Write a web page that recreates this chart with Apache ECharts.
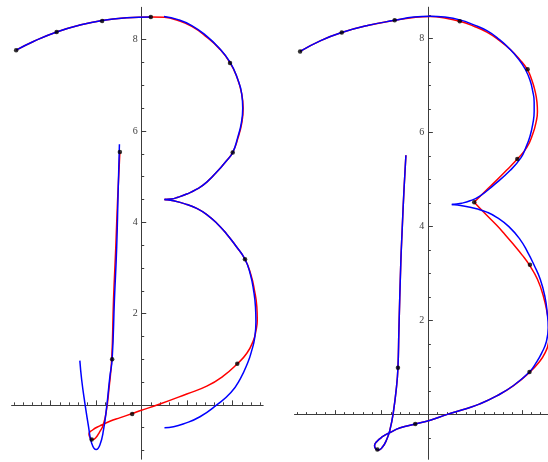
<!DOCTYPE html>
<html>
<head>
<meta charset="utf-8">
<script src="https://cdn.jsdelivr.net/npm/echarts@6/dist/echarts.min.js"></script>
<style>
  html, body { margin: 0; padding: 0; background: #fff; }
  #chart { width: 548px; height: 462px; }
</style>
</head>
<body>
<div id="chart"></div>
<script>
// ---------- left panel ----------
const leftKnots = [[-2.76,7.77],[-1.87,8.17],[-0.87,8.41],[0.20,8.50],[1.94,7.49],[2.00,5.53],
  [2.27,3.19],[2.10,0.90],[-0.21,-0.20],[-1.10,-0.76],[-0.65,1.00],[-0.48,5.54]];

const leftRedTop = [[-2.76,7.77],[-2.38,7.96],[-1.87,8.17],[-1.36,8.32],[-0.87,8.42],[-0.33,8.48],
  [0.20,8.50],[0.50,8.49],[0.80,8.42],[1.10,8.29],[1.40,8.08],[1.70,7.81],[1.94,7.50],[2.10,7.16],
  [2.20,6.80],[2.23,6.50],[2.20,6.18],[2.12,5.86],[2.00,5.53],[1.85,5.33],[1.72,5.18],[1.43,4.88],
  [1.20,4.72],[0.99,4.62],[0.80,4.55],[0.65,4.51],[0.50,4.50]];
const leftRedBottom = [[0.50,4.50],[0.70,4.47],[0.99,4.39],[1.22,4.30],[1.43,4.17],[1.65,3.98],[1.87,3.74],
  [2.07,3.48],[2.27,3.19],[2.40,2.85],[2.48,2.50],[2.53,2.15],[2.54,1.86],[2.51,1.62],[2.45,1.40],
  [2.31,1.13],[2.10,0.90],[1.79,0.63],[1.43,0.41],[0.99,0.24],[0.40,0.02],[-0.04,-0.13],[-0.21,-0.19],
  [-0.47,-0.28],[-0.70,-0.36],[-0.92,-0.46],[-1.08,-0.55],[-1.16,-0.64],[-1.13,-0.73],[-1.08,-0.76],
  [-1.01,-0.72],[-0.93,-0.60],[-0.85,-0.45],[-0.78,-0.15],[-0.72,0.35],[-0.66,1.00],[-0.62,2.30],
  [-0.57,3.46],[-0.53,4.50],[-0.48,5.54]];

const leftBlueArc = [[-2.76,7.77],[-2.38,7.96],[-1.87,8.17],[-1.36,8.32],[-0.87,8.42],[-0.33,8.48],[0.20,8.50]];
const leftBlueUpperBowl = [[0.49,8.51],[0.80,8.44],[1.10,8.31],[1.40,8.10],[1.70,7.82],[1.94,7.51],[2.10,7.16],
  [2.20,6.80],[2.22,6.50],[2.19,6.18],[2.11,5.86],[2.00,5.53],[1.85,5.33],[1.72,5.18],[1.43,4.88],
  [1.20,4.72],[0.99,4.62],[0.80,4.55],[0.65,4.51],[0.50,4.50]];
const leftBlueLowerBowl = [[0.50,4.50],[0.70,4.47],[0.99,4.39],[1.22,4.30],[1.43,4.17],[1.65,3.98],[1.87,3.74],
  [2.07,3.48],[2.27,3.19],[2.39,2.85],[2.46,2.50],[2.50,2.15],[2.51,1.82],[2.48,1.45],[2.42,1.20],
  [2.34,0.95],[2.16,0.56],[1.96,0.27],[1.65,0.00],[1.28,-0.26],[0.91,-0.42],[0.70,-0.48],[0.50,-0.50]];
const leftBlueStem = [[-1.36,0.97],[-1.32,0.55],[-1.25,0.04],[-1.17,-0.47],[-1.10,-0.84],[-1.00,-0.98],
  [-0.92,-0.88],[-0.84,-0.55],[-0.77,-0.04],[-0.70,0.62],[-0.65,1.00],[-0.60,2.30],[-0.55,3.46],
  [-0.52,4.60],[-0.49,5.71]];

// ---------- right panel ----------
const rightKnots = [[-2.74,7.73],[-1.85,8.13],[-0.72,8.39],[0.67,8.37],[2.12,7.35],[1.90,5.44],
  [0.98,4.52],[2.17,3.19],[2.16,0.91],[-0.65,1.00],[-0.28,-0.20],[-1.09,-0.74]];

const rightRedTop = [[-2.74,7.73],[-2.30,7.96],[-1.85,8.13],[-1.30,8.28],[-0.72,8.39],[-0.31,8.45],
  [0.04,8.47],[0.35,8.44],[0.67,8.37],[0.96,8.27],[1.25,8.14],[1.52,7.96],[1.75,7.77],[1.95,7.56],
  [2.11,7.35],[2.21,7.12],[2.28,6.88],[2.32,6.65],[2.33,6.45],[2.30,6.22],[2.23,5.97],[2.10,5.68],
  [1.90,5.44],[1.68,5.21],[1.45,4.98],[1.22,4.76],[0.98,4.52]];
const rightRedBottom = [[0.98,4.52],[1.20,4.29],[1.46,4.03],[1.64,3.83],[1.82,3.62],[2.00,3.40],[2.16,3.18],
  [2.33,2.88],[2.46,2.51],[2.55,2.10],[2.59,1.85],[2.57,1.55],[2.49,1.31],[2.35,1.10],[2.16,0.90],
  [1.82,0.62],[1.46,0.40],[1.10,0.23],[0.75,0.11],[0.39,0.00],[0.04,-0.12],[-0.28,-0.20],[-0.60,-0.28],
  [-0.82,-0.38],[-0.98,-0.47],[-1.10,-0.57],[-1.15,-0.66],[-1.12,-0.73],[-1.06,-0.75],[-0.98,-0.69],
  [-0.89,-0.53],[-0.82,-0.32],[-0.75,0.04],[-0.68,0.60],[-0.65,1.00],[-0.63,1.78],[-0.59,3.20],
  [-0.56,3.93],[-0.52,4.80],[-0.48,5.52]];

const rightBlueTop = [[-2.74,7.73],[-2.30,7.96],[-1.85,8.13],[-1.30,8.28],[-0.72,8.39],[-0.31,8.46],
  [0.04,8.48],[0.35,8.46],[0.67,8.40],[0.96,8.30],[1.25,8.17],[1.52,7.98],[1.75,7.77],[1.93,7.56],
  [2.07,7.35],[2.17,7.12],[2.23,6.88],[2.26,6.65],[2.26,6.45],[2.23,6.18],[2.17,5.92],[2.08,5.68],
  [1.98,5.47],[1.75,5.20],[1.39,4.88],[1.10,4.65],[0.89,4.55],[0.71,4.50],[0.50,4.47]];
const rightBlueBottom = [[0.50,4.47],[0.75,4.44],[1.03,4.38],[1.25,4.31],[1.46,4.20],[1.72,4.00],[1.95,3.74],
  [2.12,3.46],[2.26,3.18],[2.39,2.88],[2.49,2.51],[2.54,2.15],[2.56,1.85],[2.52,1.55],[2.42,1.31],
  [2.30,1.10],[2.17,0.92],[1.82,0.62],[1.46,0.40],[1.10,0.23],[0.75,0.11],[0.39,0.00],[0.04,-0.12],
  [-0.28,-0.20],[-0.60,-0.28],[-0.82,-0.38],[-0.98,-0.47],[-1.10,-0.57],[-1.15,-0.66],[-1.12,-0.73],
  [-1.06,-0.75],[-0.98,-0.69],[-0.89,-0.53],[-0.82,-0.32],[-0.75,0.04],[-0.68,0.60],[-0.65,1.00],
  [-0.63,1.78],[-0.59,3.20],[-0.56,3.93],[-0.52,4.80],[-0.48,5.52]];

// ---------- axes ----------
const xLabelValues = [-2, -1, 1, 2];
const yLabelValues = [2, 4, 6, 8];
const leftRange = { x: [-2.86, 2.67], y: [-1.19, 8.71] };
const rightRange = { x: [-2.86, 2.56], y: [-0.95, 8.67] };
const leftBox = { left: 11.6, top: 7.3, width: 251.6, height: 451.9 };
const rightBox = { left: 294.5, top: 7.2, width: 253.7, height: 452.1 };

// evenly spaced minor tick marks inside [lo, hi], skipping the origin
function steps(from, to, step, lo, hi) {
  const out = [];
  for (let v = from; v <= to + 1e-9; v += step) {
    const r = Math.round(v * 100) / 100;
    if (r !== 0 && r >= lo && r <= hi) out.push(r);
  }
  return out;
}

const axisColor = '#3c3c3c';
const labelFont = { fontFamily: 'Liberation Serif', fontSize: 10, color: '#3c3c3c' };

// two axes per dimension: one carries the line + fine ticks, the other the long ticks + labels
function xAxesFor(gridIndex, range, crossIndex) {
  const [lo, hi] = range;
  const common = { type: 'value', gridIndex, min: lo, max: hi, position: 'bottom',
    splitLine: { show: false }, minorTick: { show: false }, minorSplitLine: { show: false } };
  return [
    Object.assign({}, common, {
      axisLine: { show: true, onZero: true, onZeroAxisIndex: crossIndex,
        lineStyle: { color: axisColor, width: 1 } },
      axisTick: { show: true, inside: true, length: 2.5, customValues: steps(-3, 3, 0.2, lo, hi),
        lineStyle: { color: axisColor, width: 1 } },
      axisLabel: { show: false }
    }),
    Object.assign({}, common, {
      axisLine: { show: true, onZero: true, onZeroAxisIndex: crossIndex,
        lineStyle: { color: axisColor, width: 1, opacity: 0 } },
      axisTick: { show: true, inside: true, length: 4.5, customValues: xLabelValues,
        lineStyle: { color: axisColor, width: 1 } },
      axisLabel: Object.assign({ show: true, customValues: xLabelValues, margin: 4,
        formatter: v => v < 0 ? '{neg|' + Math.abs(v) + '}' : String(v),
        rich: { neg: Object.assign({ padding: [0, 0, 0, 5] }, labelFont) } }, labelFont)
    })
  ];
}

function yAxesFor(gridIndex, range, crossIndex, xRange, box) {
  const [lo, hi] = range;
  // shift of the labelled axis from the grid's left edge to x = 0
  const zeroShift = -(0 - xRange[0]) / (xRange[1] - xRange[0]) * box.width;
  const common = { type: 'value', gridIndex, min: lo, max: hi, position: 'left',
    splitLine: { show: false }, minorTick: { show: false }, minorSplitLine: { show: false } };
  return [
    Object.assign({}, common, {
      axisLine: { show: true, onZero: true, onZeroAxisIndex: crossIndex,
        lineStyle: { color: axisColor, width: 1 } },
      axisTick: { show: true, inside: true, length: 2.5, customValues: steps(-1, 8.5, 0.5, lo, hi),
        lineStyle: { color: axisColor, width: 1 } },
      axisLabel: { show: false }
    }),
    Object.assign({}, common, {
      offset: zeroShift,
      axisLine: { show: false, onZero: false },
      axisTick: { show: true, inside: true, length: 4.5, customValues: yLabelValues,
        lineStyle: { color: axisColor, width: 1 } },
      axisLabel: Object.assign({ show: true, customValues: yLabelValues, margin: 4 }, labelFont)
    })
  ];
}

const RED = '#ff0000', BLUE = '#0000ff';
function curve(data, color, axisIdx) {
  return { type: 'line', data, xAxisIndex: axisIdx, yAxisIndex: axisIdx, smooth: 0.5,
    showSymbol: false, symbol: 'none', clip: true, silent: true,
    lineStyle: { color, width: 1.5 }, z: color === BLUE ? 3 : 2 };
}
function knots(data, axisIdx) {
  return { type: 'scatter', data, xAxisIndex: axisIdx, yAxisIndex: axisIdx, symbolSize: 4.5,
    itemStyle: { color: '#000' }, z: 5, silent: true };
}

const chart = echarts.init(document.getElementById('chart'), null, { renderer: 'canvas' });
chart.setOption({
  animation: false,
  backgroundColor: '#ffffff',
  grid: [
    Object.assign({ containLabel: false, outerBoundsMode: 'none' }, leftBox),
    Object.assign({ containLabel: false, outerBoundsMode: 'none' }, rightBox)
  ],
  xAxis: [...xAxesFor(0, leftRange.x, 0), ...xAxesFor(1, rightRange.x, 2)],
  yAxis: [...yAxesFor(0, leftRange.y, 0, leftRange.x, leftBox),
          ...yAxesFor(1, rightRange.y, 2, rightRange.x, rightBox)],
  series: [
    curve(leftRedTop, RED, 0),
    curve(leftRedBottom, RED, 0),
    curve(leftBlueArc, BLUE, 0),
    curve(leftBlueUpperBowl, BLUE, 0),
    curve(leftBlueLowerBowl, BLUE, 0),
    curve(leftBlueStem, BLUE, 0),
    knots(leftKnots, 0),
    curve(rightRedTop, RED, 2),
    curve(rightRedBottom, RED, 2),
    curve(rightBlueTop, BLUE, 2),
    curve(rightBlueBottom, BLUE, 2),
    knots(rightKnots, 2)
  ]
});
</script>
</body>
</html>
